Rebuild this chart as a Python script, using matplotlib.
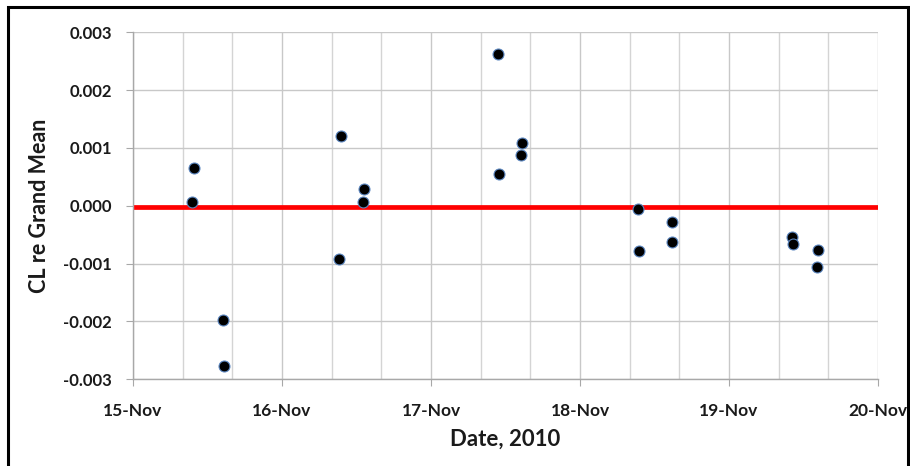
import matplotlib.pyplot as plt
from matplotlib.patches import Rectangle
from matplotlib.ticker import MultipleLocator

# day of November 2010 (fractional) and CL deviation from the grand mean
days = [15.407, 15.394, 15.602, 15.609,
        16.394, 16.380, 16.553, 16.544,
        17.452, 17.609, 17.602, 17.456,
        18.389, 18.620, 18.617, 18.399,
        19.426, 19.430, 19.597, 19.588]
cl_dev = [0.000647, 0.000064, -0.001978, -0.002768,
          0.001211, -0.000927, 0.000294, 0.000069,
          0.002619, 0.001090, 0.000872, 0.000543,
          -0.000052, -0.000277, -0.000623, -0.000778,
          -0.000542, -0.000657, -0.000766, -0.001061]

mean_line_x = [15.02, 20.0]
mean_line_y = [-0.00002, -0.00002]

day_ticks = [15, 16, 17, 18, 19, 20]
day_labels = ["15-Nov", "16-Nov", "17-Nov", "18-Nov", "19-Nov", "20-Nov"]
y_ticks = [0.003, 0.002, 0.001, 0.0, -0.001, -0.002, -0.003]
y_labels = ["0.003", "0.002", "0.001", "0.000", "-0.001", "-0.002", "-0.003"]

plt.rcParams["font.family"] = ["Lato", "DejaVu Sans"]

fig = plt.figure(figsize=(9.1, 4.66), dpi=100)
ax = fig.add_axes([133 / 910, 1 - 379.3 / 466, 745 / 910, 347 / 466])

ax.scatter(days, cl_dev, s=62, c="black", edgecolors="#5b86c0",
           linewidths=0.8, zorder=4)
ax.plot(mean_line_x, mean_line_y, color="red", linewidth=3.4, zorder=3)

ax.set_xlim(15, 20)
ax.set_ylim(-0.003, 0.003)
ax.set_xticks(day_ticks)
ax.set_xticklabels(day_labels, fontsize=12.5, fontweight="bold", color="#1a1a1a")
ax.set_yticks(y_ticks)
ax.set_yticklabels(y_labels, fontsize=12, fontweight="bold", color="#1a1a1a")
ax.xaxis.set_minor_locator(MultipleLocator(1 / 3))

ax.grid(True, which="major", color="#c8c8c8", linewidth=1)
ax.grid(True, which="minor", axis="x", color="#d4d4d4", linewidth=1)
ax.set_axisbelow(True)

for side in ["top", "right"]:
    ax.spines[side].set_visible(False)
for side in ["left", "bottom"]:
    ax.spines[side].set_color("#a8a8a8")
    ax.spines[side].set_linewidth(1)
ax.tick_params(which="major", direction="out", length=5, color="#a8a8a8")
ax.tick_params(axis="x", which="minor", length=0)
ax.tick_params(axis="y", pad=10)
ax.tick_params(axis="x", pad=12)

ax.set_xlabel("Date, 2010", fontsize=16, fontweight="bold", color="#1a1a1a", labelpad=7)
ax.set_ylabel("CL re Grand Mean", fontsize=15.5, fontweight="bold", color="#1a1a1a", labelpad=10)

# black frame around the chart area
fig.patches.append(Rectangle((8 / 910, -0.05), 900 / 910, 1.05 - 7 / 466,
                             transform=fig.transFigure, fill=False,
                             edgecolor="black", linewidth=2.2))

fig.savefig("out.png", dpi=100)
